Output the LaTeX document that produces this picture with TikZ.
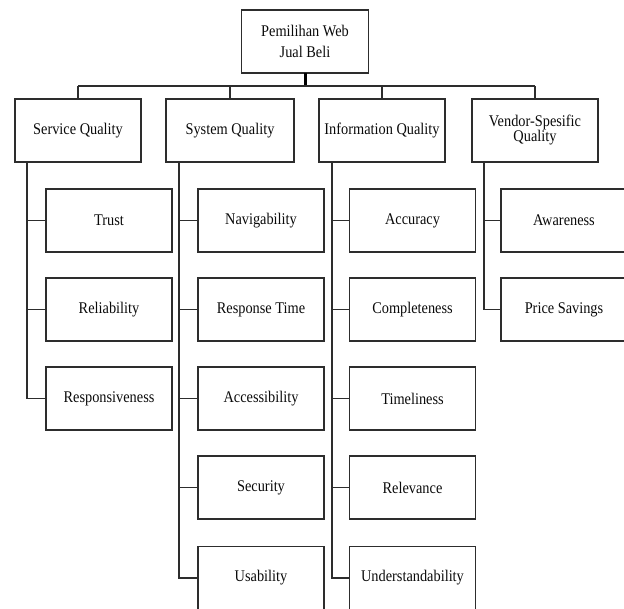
\documentclass[tikz,border=0pt]{standalone}
\usepackage{fontspec}
\setmainfont{Liberation Serif}[FakeStretch=0.88]
\definecolor{linegray}{RGB}{45,45,45}
\definecolor{txt}{RGB}{10,10,10}
\begin{document}
\begin{tikzpicture}[x=1pt,y=-1pt,
  box/.style={draw=linegray, line width=1.5pt, minimum width=126pt, minimum height=63pt,
    inner sep=0pt, outer sep=0pt, align=center, text=txt,
    font=\fontsize{16.3}{15}\selectfont},
  link/.style={draw=linegray, line width=1.5pt},
  stem/.style={draw=black, line width=3pt}]
\useasboundingbox (0,0) rectangle (624,608);
% root
\node[box, minimum width=127pt, font=\fontsize{16.3}{21}\selectfont] (root) at (305,41.5) {Pemilihan Web\\Jual Beli};
% level 1
\node[box] (sq) at (78,130.5) {Service Quality};
\node[box, minimum width=128pt] (sy) at (230,130.5) {System Quality};
\node[box] (iq) at (382,130.5) {Information Quality};
\node[box] (vq) at (535,130.5) {Vendor-Spesific\\Quality};
% service children
\node[box] (trust) at (109,220.5) {Trust};
\node[box] (rel) at (109,309.5) {Reliability};
\node[box] (resp) at (109,398.5) {Responsiveness};
% system children
\node[box] (nav) at (261,220.5) {Navigability};
\node[box] (rt) at (261,309.5) {Response Time};
\node[box] (acc) at (261,398.5) {Accessibility};
\node[box] (sec) at (261,487.5) {Security};
\node[box] (usa) at (261,578) {Usability};
% information children
\node[box] (accu) at (412.5,220.5) {Accuracy};
\node[box] (comp) at (412.5,309.5) {Completeness};
\node[box] (time) at (412.5,398.5) {Timeliness};
\node[box] (relv) at (412.5,487.5) {Relevance};
\node[box] (und) at (412.5,578) {Understandability};
% vendor children
\node[box] (aware) at (564,220.5) {Awareness};
\node[box] (price) at (564,309.5) {Price Savings};
% coordinates
\coordinate (bus) at (0,86);
\coordinate (s1) at (27,0);
\coordinate (s2) at (179,0);
\coordinate (s3) at (332,0);
\coordinate (s4) at (484,0);
% top connectors
\draw[stem] (root.south) -- (root.south |- bus);
\draw[link] (sq.north |- bus) -- (vq.north |- bus);
\foreach \n in {sq,sy,iq,vq}{\draw[link] (\n.north |- bus) -- (\n.north);}
% spines
\draw[link] (sq.south -| s1) -- (s1 |- resp.west) -- (resp.west);
\foreach \n in {trust,rel}{\draw[link] (s1 |- \n.west) -- (\n.west);}
\draw[link] (sy.south -| s2) -- (s2 |- usa.west) -- (usa.west);
\foreach \n in {nav,rt,acc,sec}{\draw[link] (s2 |- \n.west) -- (\n.west);}
\draw[link] (iq.south -| s3) -- (s3 |- und.west) -- (und.west);
\foreach \n in {accu,comp,time,relv}{\draw[link] (s3 |- \n.west) -- (\n.west);}
\draw[link] (vq.south -| s4) -- (s4 |- price.west) -- (price.west);
\draw[link] (s4 |- aware.west) -- (aware.west);
\end{tikzpicture}
\end{document}
